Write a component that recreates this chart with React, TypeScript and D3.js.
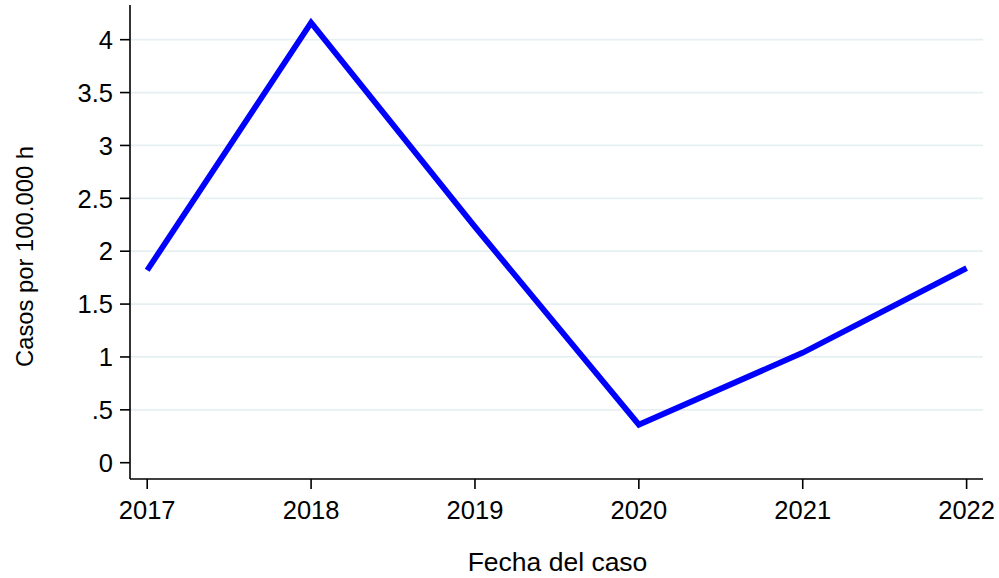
import React from "react";
import * as d3 from "d3";

const years = [2017, 2018, 2019, 2020, 2021, 2022];
const values = [1.82, 4.16, 2.23, 0.36, 1.04, 1.84];
const yTicks = [0, 0.5, 1, 1.5, 2, 2.5, 3, 3.5, 4];
const yTickLabels = ["0", ".5", "1", "1.5", "2", "2.5", "3", "3.5", "4"];
const yTitle = "Casos por 100.000 h";
const xTitle = "Fecha del caso";

const W = 999;
const H = 578;
const FONT = "'Liberation Sans', Arial, Helvetica, sans-serif";

export default function App() {
  const left = 130;
  const right = 983;
  const top = 5;
  const bottom = 479;

  const x = d3.scaleLinear().domain([2016.895, 2022.1]).range([left, right]);
  const y = d3.scaleLinear().domain([-0.154, 4.328]).range([bottom, top]);

  const line = d3
    .line<number>()
    .x((_, i) => x(years[i]))
    .y((d) => y(d));

  return (
    <svg
      width={W}
      height={H}
      style={{ position: "absolute", left: 0, top: 0, background: "#fff" }}
      fontFamily={FONT}
    >
      <rect x={0} y={0} width={W} height={H} fill="#fff" />
      {yTicks
        .filter((t) => t !== 0)
        .map((t) => (
          <line
            key={"g" + t}
            x1={left}
            x2={right}
            y1={y(t)}
            y2={y(t)}
            stroke="#e6eff1"
            strokeWidth={1.8}
          />
        ))}
      <line x1={left} x2={left} y1={top} y2={bottom} stroke="#000" strokeWidth={1.6} />
      <line x1={left} x2={right} y1={bottom} y2={bottom} stroke="#000" strokeWidth={1.6} />
      {yTicks.map((t, i) => (
        <g key={"y" + t}>
          <line x1={left - 10} x2={left} y1={y(t)} y2={y(t)} stroke="#000" strokeWidth={1.6} />
          <text x={113} y={y(t)} dy="0.36em" textAnchor="end" fontSize={25.5} fill="#000">
            {yTickLabels[i]}
          </text>
        </g>
      ))}
      {years.map((yr) => (
        <g key={"x" + yr}>
          <line x1={x(yr)} x2={x(yr)} y1={bottom} y2={bottom + 10} stroke="#000" strokeWidth={1.6} />
          <text x={x(yr)} y={519} textAnchor="middle" fontSize={25.5} fill="#000">
            {yr}
          </text>
        </g>
      ))}
      <text x={(left + right) / 2 + 1} y={571} textAnchor="middle" fontSize={26.5} fill="#000">
        {xTitle}
      </text>
      <text
        transform={`translate(32.5, 256.5) rotate(-90)`}
        textAnchor="middle"
        fontSize={23.8}
        fill="#000"
      >
        {yTitle}
      </text>
      <path
        d={line(values) || ""}
        fill="none"
        stroke="#0000ff"
        strokeWidth={5.8}
        strokeLinejoin="miter"
        strokeLinecap="butt"
      />
    </svg>
  );
}
